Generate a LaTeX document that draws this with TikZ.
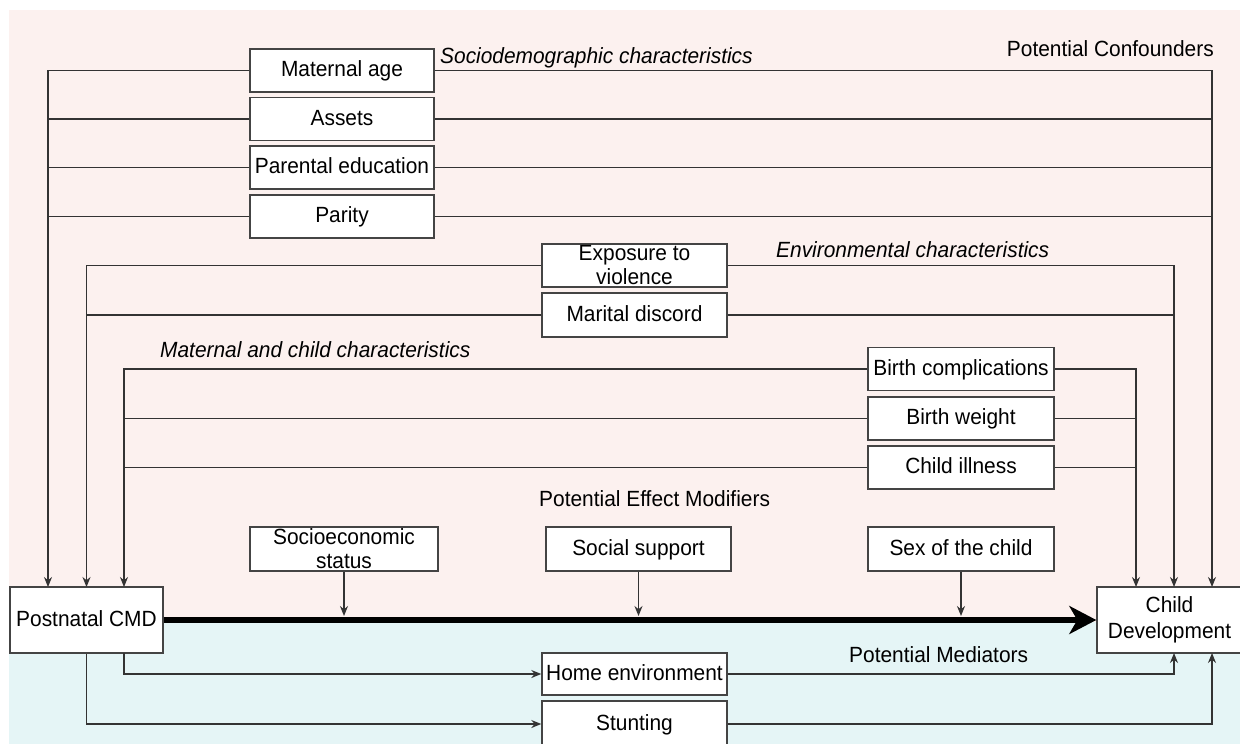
\documentclass[tikz,border=0pt]{standalone}
\usepackage{fontspec}
\setmainfont{Liberation Sans}[FakeStretch=0.95]
\usetikzlibrary{arrows.meta,calc}
\definecolor{pinkbg}{HTML}{FCF1EF}
\definecolor{cyanbg}{HTML}{E5F5F6}
\definecolor{lncol}{HTML}{333333}
\definecolor{boxcol}{HTML}{444444}
\begin{document}
\begin{tikzpicture}[x=1pt,y=-1pt,
  font=\fontsize{22}{25}\selectfont,
  mbox/.style={draw=boxcol,line width=1.4pt,fill=white,inner sep=0pt,align=center,
    minimum width=#1},
  mbox/.default=185pt,
  box/.style={mbox=#1,text height=16pt,text depth=4pt},
  box/.default=185pt,
  ln/.style={draw=lncol,line width=1.3pt},
  arr/.style={ln,-{Stealth[length=10pt,width=8pt]}},
  bigarr/.style={draw=black,line width=6pt,-{Stealth[length=27pt,width=28pt,inset=8pt]}},
  lbl/.style={inner sep=0pt,text height=16pt,text depth=4pt},
  ilbl/.style={lbl,font=\fontsize{22}{25}\selectfont\itshape}]
\useasboundingbox (0,0) rectangle (1240,744);
% backgrounds
\fill[pinkbg] (9,10) rectangle (1240,622);
\fill[cyanbg] (9,622) rectangle (1240,744);

% confounder boxes
\node[box=184pt,minimum height=43pt] (ma) at (342,70.5) {Maternal age};
\node[box=184pt,minimum height=43pt] (as) at (342,119) {Assets};
\node[box=184pt,minimum height=43pt] (pe) at (342,167.5) {Parental education};
\node[box=184pt,minimum height=43pt] (pa) at (342,216.5) {Parity};

\node[mbox,minimum height=43pt,font=\fontsize{22}{24}\selectfont] (ex) at (634.5,265.5) {Exposure to\\violence};
\node[box,minimum height=44pt] (md) at (634.5,315) {Marital discord};

\node[box=186pt,minimum height=43pt] (bc) at (961,369) {Birth complications};
\node[box=186pt,minimum height=43pt] (bw) at (961,418.5) {Birth weight};
\node[box=186pt,minimum height=43pt] (ci) at (961,467.5) {Child illness};

% effect modifiers
\node[mbox=188pt,minimum height=44pt,font=\fontsize{22}{24}\selectfont] (se) at (344,549) {Socioeconomic\\status};
\node[box,minimum height=44pt] (ss) at (638.5,549) {Social support};
\node[box=186pt,minimum height=44pt] (sx) at (961,549) {Sex of the child};

% main nodes
\node[box=153pt,minimum height=66pt] (cmd) at (86.5,620) {Postnatal CMD};
\node[mbox=145pt,minimum height=66pt,font=\fontsize{22}{26}\selectfont] (cd) at (1169.5,620) {Child\\Development};

% mediators
\node[box,minimum height=42pt] (he) at (634.5,674) {Home environment};
\node[box,minimum height=46pt] (st) at (634.5,724) {Stunting};

% connection points
\coordinate (t1) at (48,587);
\coordinate (t2) at (86.5,587);
\coordinate (t3) at (124,587);
\coordinate (u1) at (1136,587);
\coordinate (u2) at (1174,587);
\coordinate (u3) at (1212,587);
\coordinate (b1) at (124,653);
\coordinate (e1) at (1174,653);
\coordinate (e2) at (1212,653);
\coordinate (m1) at (344,616);
\coordinate (m2) at (638.5,616);
\coordinate (m3) at (961,616);

% confounder lines, left
\draw[arr] (ma.west) -| (t1);
\draw[ln] (as.west) -- (as.west -| t1);
\draw[ln] (pe.west) -- (pe.west -| t1);
\draw[ln] (pa.west) -- (pa.west -| t1);
\draw[arr] (ex.west) -| (t2);
\draw[ln] (md.west) -- (md.west -| t2);
\draw[arr] (bc.west) -| (t3);
\draw[ln] (bw.west) -- (bw.west -| t3);
\draw[ln] (ci.west) -- (ci.west -| t3);
% confounder lines, right
\draw[arr] (ma.east) -| (u3);
\draw[ln] (as.east) -- (as.east -| u3);
\draw[ln] (pe.east) -- (pe.east -| u3);
\draw[ln] (pa.east) -- (pa.east -| u3);
\draw[arr] (ex.east) -| (u2);
\draw[ln] (md.east) -- (md.east -| u2);
\draw[arr] (bc.east) -| (u1);
\draw[ln] (bw.east) -- (bw.east -| u1);
\draw[ln] (ci.east) -- (ci.east -| u1);

% main effect
\draw[bigarr] (cmd.east) -- (cd.west);
% modifiers
\draw[arr] (se.south) -- (m1);
\draw[arr] (ss.south) -- (m2);
\draw[arr] (sx.south) -- (m3);
% mediators
\draw[arr] (b1) |- (he.west);
\draw[arr] (cmd.south) |- (st.west);
\draw[arr] (he.east) -| (e1);
\draw[arr] (st.east) -| (e2);

% labels
\node[ilbl,anchor=west] (l1) at (440,57) {Sociodemographic characteristics};
\node[lbl,anchor=east] (l2) at (1214,50) {Potential Confounders};
\node[ilbl,anchor=west] (l3) at (776,251) {Environmental characteristics};
\node[ilbl,anchor=west] (l4) at (160,351) {Maternal and child characteristics};
\node[lbl,anchor=west] (l5) at (539,500) {Potential Effect Modifiers};
\node[lbl,anchor=west] (l6) at (849,656) {Potential Mediators};
\end{tikzpicture}
\end{document}
